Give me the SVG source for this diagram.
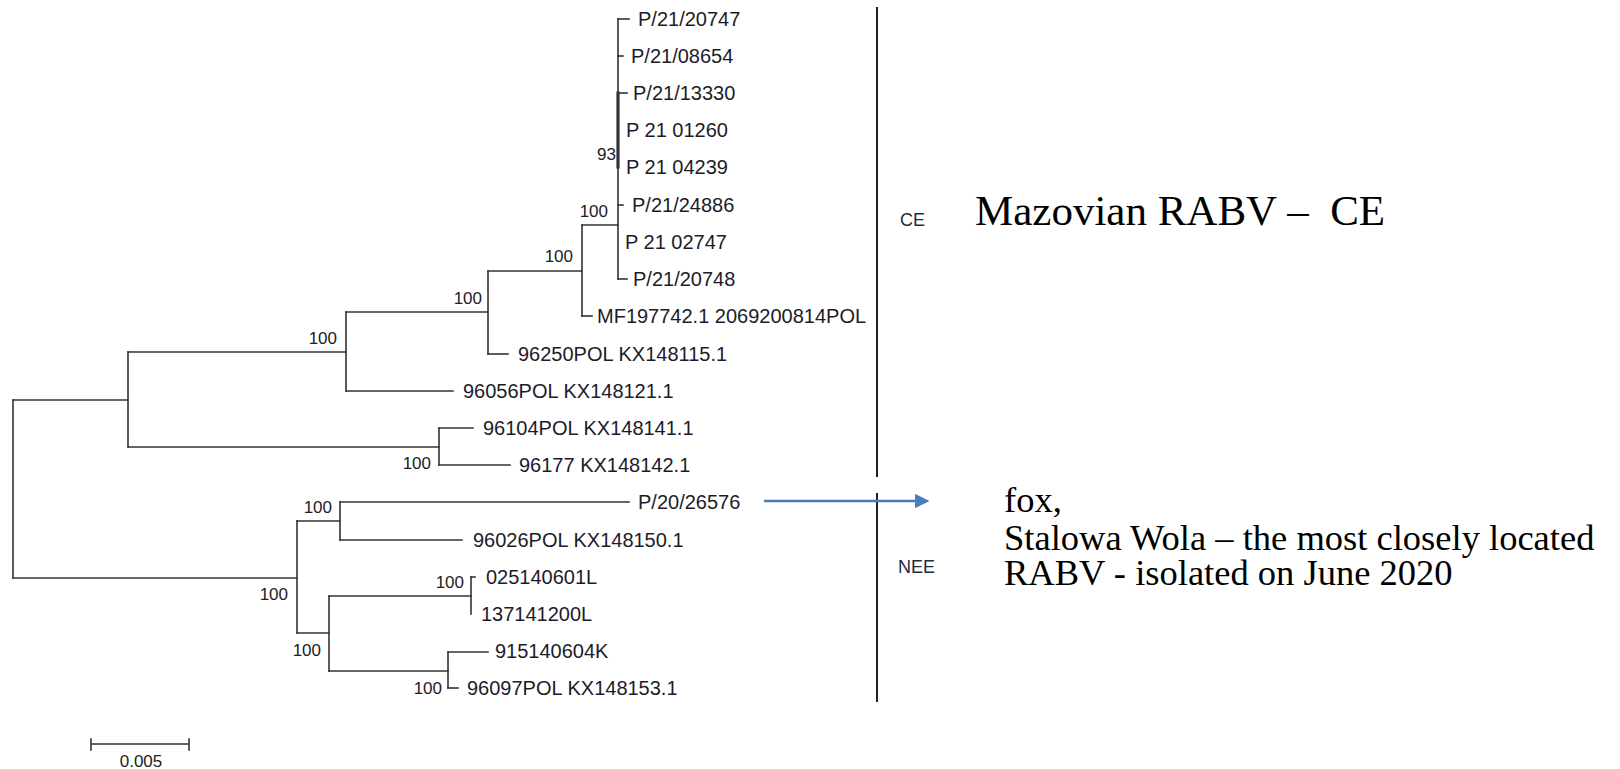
<svg xmlns="http://www.w3.org/2000/svg" width="1620" height="769" viewBox="0 0 1620 769">
  <style>
    .br { stroke: #333; stroke-width: 1.6; fill: none; stroke-linecap: square; }
    .tip { font-family: "Liberation Sans", Arial, sans-serif; font-size: 20px; fill: #1c1c28; }
    .bs { font-family: "Liberation Sans", Arial, sans-serif; font-size: 17px; fill: #222; text-anchor: end; }
    .grp { font-family: "Liberation Sans", Arial, sans-serif; font-size: 18px; fill: #1f2a44; }
    .note { font-family: "Liberation Serif", "Times New Roman", serif; fill: #000; }
  </style>
  <defs>
    <marker id="arrowhead" markerWidth="6" markerHeight="6" refX="5" refY="3" orient="auto" markerUnits="strokeWidth">
      <path d="M0,0 L6,3 L0,6 Z" fill="#4a7ebb"/>
    </marker>
  </defs>

  <!-- tree branches -->
  <g id="connectors" class="br">
    <!-- root -->
    <path d="M13,400 V578"/>
    <path d="M13,400 H128"/>
    <path d="M13,578 H297"/>
    <!-- upper clade -->
    <path d="M128,352 V447"/>
    <path d="M128,352 H346"/>
    <path d="M128,447 H439"/>
    <path d="M346,312 V391"/>
    <path d="M346,312 H488"/>
    <path d="M346,391 H453"/>
    <path d="M488,271 V354"/>
    <path d="M488,271 H582"/>
    <path d="M488,354 H508"/>
    <path d="M582,225 V316"/>
    <path d="M582,225 H618"/>
    <path d="M582,316 H592"/>
    <path d="M618,19 V279"/>
    <path d="M618,93 V167" style="stroke-width:3.2"/>
    <path d="M618,19 H629"/>
    <path d="M618,56 H623"/>
    <path d="M618,93 H627"/>
    <path d="M618,205 H623"/>
    <path d="M618,279 H627"/>
    <path d="M439,428 V465"/>
    <path d="M439,428 H473"/>
    <path d="M439,465 H510"/>
    <!-- lower clade -->
    <path d="M297,521 V633"/>
    <path d="M297,521 H340"/>
    <path d="M297,633 H329"/>
    <path d="M340,502 V540"/>
    <path d="M340,502 H629"/>
    <path d="M340,540 H462"/>
    <path d="M329,596 V671"/>
    <path d="M329,596 H471"/>
    <path d="M329,671 H448"/>
    <path d="M471,577 V614"/>
    <path d="M471,577 H475"/>
    <path d="M448,652 V688"/>
    <path d="M448,652 H488"/>
    <path d="M448,688 H458"/>
    <!-- clade bar -->
    <path d="M877,8 V476" style="stroke:#222;stroke-width:2"/>
    <path d="M877,494 V701" style="stroke:#222;stroke-width:2"/>
    <!-- scale bar -->
    <path d="M91,744 H189 M91,739 V750 M189,739 V750"/>
    <!-- pointer -->
    <path d="M764,501 H927" style="stroke:#4a7ebb;stroke-width:2.4;stroke-linecap:butt" marker-end="url(#arrowhead)"/>
  </g>

  <!-- taxa -->
  <g id="taxa">
    <text class="tip" x="638" y="26">P/21/20747</text>
    <text class="tip" x="631" y="63">P/21/08654</text>
    <text class="tip" x="633" y="100">P/21/13330</text>
    <text class="tip" x="626" y="137">P 21 01260</text>
    <text class="tip" x="626" y="174">P 21 04239</text>
    <text class="tip" x="632" y="212">P/21/24886</text>
    <text class="tip" x="625" y="249">P 21 02747</text>
    <text class="tip" x="633" y="286">P/21/20748</text>
    <text class="tip" x="597" y="323">MF197742.1 2069200814POL</text>
    <text class="tip" x="518" y="361">96250POL KX148115.1</text>
    <text class="tip" x="463" y="398">96056POL KX148121.1</text>
    <text class="tip" x="483" y="435">96104POL KX148141.1</text>
    <text class="tip" x="519" y="472">96177 KX148142.1</text>
    <text class="tip" x="638" y="509">P/20/26576</text>
    <text class="tip" x="473" y="547">96026POL KX148150.1</text>
    <text class="tip" x="486" y="584">025140601L</text>
    <text class="tip" x="481" y="621">137141200L</text>
    <text class="tip" x="495" y="658">915140604K</text>
    <text class="tip" x="467" y="695">96097POL KX148153.1</text>
  </g>

  <!-- bootstrap support -->
  <g id="support">
    <text class="bs" x="616" y="160">93</text>
    <text class="bs" x="608" y="217">100</text>
    <text class="bs" x="573" y="262">100</text>
    <text class="bs" x="482" y="304">100</text>
    <text class="bs" x="337" y="344">100</text>
    <text class="bs" x="431" y="469">100</text>
    <text class="bs" x="332" y="513">100</text>
    <text class="bs" x="288" y="600">100</text>
    <text class="bs" x="464" y="588">100</text>
    <text class="bs" x="321" y="656">100</text>
    <text class="bs" x="442" y="694">100</text>
  </g>

  <g id="scale">
    <text class="bs" x="141" y="767" style="text-anchor:middle">0.005</text>
  </g>

  <g id="clade-ce">
    <text class="grp" x="900" y="226" font-size="19">CE</text>
    <text class="note" x="975" y="225" font-size="43">Mazovian RABV –&#160; CE</text>
  </g>

  <g id="clade-nee">
    <text class="grp" x="898" y="573">NEE</text>
  </g>

  <g id="fox-note">
    <text class="note" font-size="36.5">
      <tspan x="1004" y="512">fox,</tspan>
      <tspan x="1004" y="550">Stalowa Wola – the most closely located</tspan>
      <tspan x="1004" y="585">RABV - isolated on June 2020</tspan>
    </text>
  </g>
</svg>
